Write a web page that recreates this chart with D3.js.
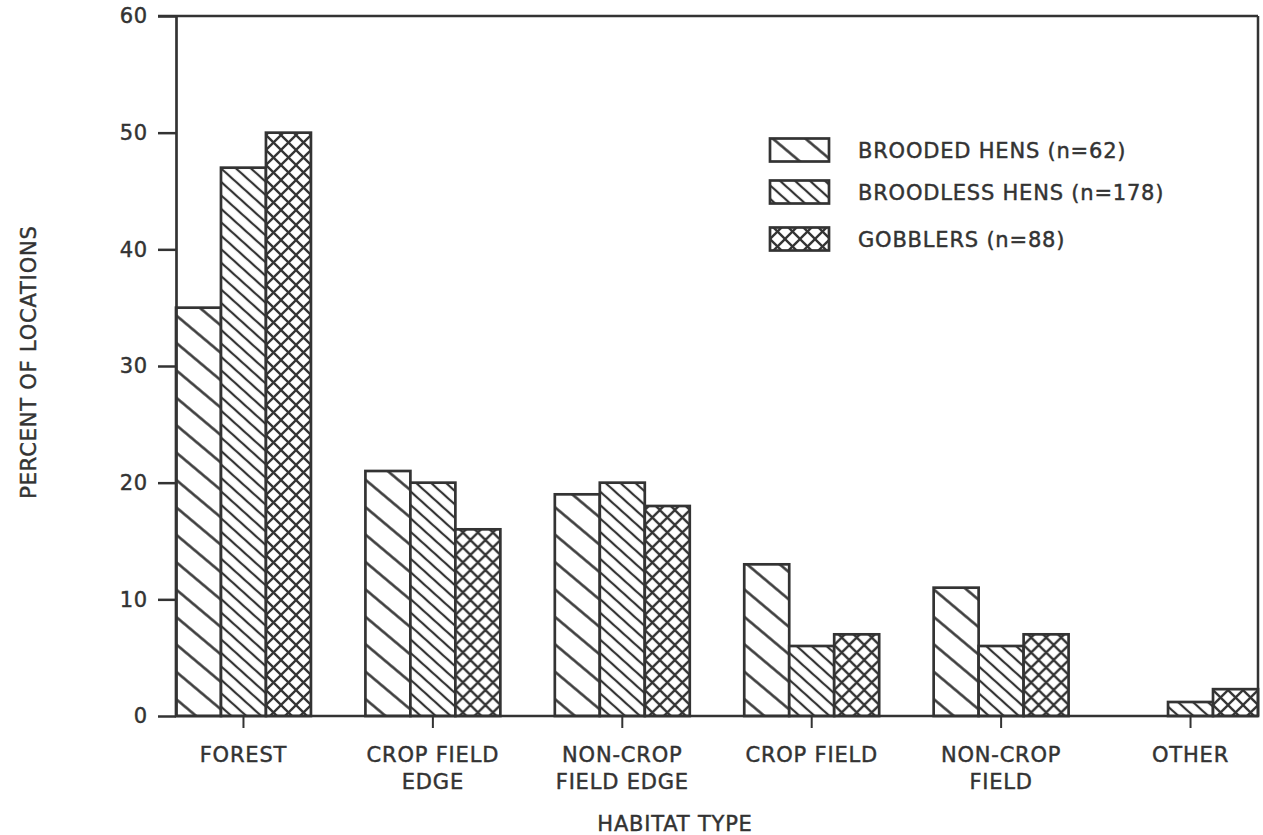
<!DOCTYPE html>
<html>
<head>
<meta charset="utf-8">
<script src="https://cdn.jsdelivr.net/npm/d3@7/dist/d3.min.js"></script>
<style>
  html, body { margin: 0; padding: 0; background: #fff; }
  svg { display: block; }
  text { font-family: "DejaVu Sans", sans-serif; fill: #333; stroke: #333; stroke-width: 0.45px; }
</style>
</head>
<body>
<svg id="chart" width="1263" height="835"></svg>
<script>
// ---- data ----
const categories = ["FOREST", "CROP FIELD EDGE", "NON-CROP FIELD EDGE", "CROP FIELD", "NON-CROP FIELD", "OTHER"];
const categoryLines = [["FOREST"], ["CROP FIELD", "EDGE"], ["NON-CROP", "FIELD EDGE"], ["CROP FIELD"], ["NON-CROP", "FIELD"], ["OTHER"]];
const seriesNames = ["BROODED HENS (n=62)", "BROODLESS HENS (n=178)", "GOBBLERS (n=88)"];
const broodedHens = [35, 21, 19, 13, 11, 0];
const broodlessHens = [47, 20, 20, 6, 6, 1.2];
const gobblers = [50, 16, 18, 7, 7, 2.3];
const yTicks = [0, 10, 20, 30, 40, 50, 60];
const yTitle = "PERCENT OF LOCATIONS";
const xTitle = "HABITAT TYPE";

(function () {
const seriesValues = [broodedHens, broodlessHens, gobblers];
const patternIds = ["pBrooded", "pBroodless", "pGobblers"];

// ---- layout ----
const ink = "#333";
const mLeft = 176, mRight = 1258, mTop = 16, mBottom = 716;

const svg = d3.select("#chart");
const defs = svg.append("defs");

function hatch(id, spacing, angle, sw) {
  const p = defs.append("pattern").attr("id", id)
    .attr("patternUnits", "userSpaceOnUse")
    .attr("width", spacing).attr("height", spacing)
    .attr("patternTransform", `rotate(${angle})`);
  p.append("rect").attr("width", spacing).attr("height", spacing).attr("fill", "#fff");
  p.append("line").attr("x1", spacing / 2).attr("x2", spacing / 2)
    .attr("y1", -1).attr("y2", spacing + 1)
    .attr("stroke", ink).attr("stroke-width", sw);
}
hatch("pBrooded", 21, -50, 2.5);
hatch("pBroodless", 10, -48, 2.2);

{
  const s = 15;
  const p = defs.append("pattern").attr("id", "pGobblers")
    .attr("patternUnits", "userSpaceOnUse")
    .attr("width", s).attr("height", s);
  p.append("rect").attr("width", s).attr("height", s).attr("fill", "#fff");
  p.append("line").attr("x1", -1).attr("y1", -1).attr("x2", s + 1).attr("y2", s + 1)
    .attr("stroke", ink).attr("stroke-width", 2.3);
  p.append("line").attr("x1", s + 1).attr("y1", -1).attr("x2", -1).attr("y2", s + 1)
    .attr("stroke", ink).attr("stroke-width", 2.3);
}

// ---- scales ----
const x0 = d3.scaleBand().domain(categories).range([mLeft, mRight]).paddingInner(0.2876).paddingOuter(0);
const x1 = d3.scaleBand().domain(d3.range(seriesValues.length)).range([0, x0.bandwidth()]).padding(0);
const y = d3.scaleLinear().domain([0, 60]).range([mBottom, mTop]);

// ---- bars ----
const groups = svg.append("g").selectAll("g")
  .data(categories).join("g")
  .attr("transform", d => `translate(${x0(d)},0)`);

groups.selectAll("rect")
  .data((d, i) => seriesValues.map((vals, s) => ({ s, v: vals[i] })))
  .join("rect")
  .attr("x", d => x1(d.s))
  .attr("width", x1.bandwidth())
  .attr("y", d => y(d.v))
  .attr("height", d => y(0) - y(d.v))
  .attr("fill", d => `url(#${patternIds[d.s]})`)
  .attr("stroke", ink)
  .attr("stroke-width", d => d.v > 0 ? 2.7 : 0);

// ---- frame ----
svg.append("line").attr("x1", 158).attr("x2", mRight).attr("y1", y(60)).attr("y2", y(60))
  .attr("stroke", ink).attr("stroke-width", 2.5);
svg.append("line").attr("x1", mRight).attr("x2", mRight).attr("y1", y(60)).attr("y2", y(0))
  .attr("stroke", ink).attr("stroke-width", 2.5);

// ---- y axis ----
const yAxis = svg.append("g").attr("transform", `translate(${mLeft},0)`)
  .call(d3.axisLeft(y).tickValues(yTicks).tickFormat(d3.format("d")).tickSize(18).tickSizeOuter(0).tickPadding(10));
yAxis.select(".domain").attr("stroke", ink).attr("stroke-width", 2.7);
yAxis.selectAll(".tick line").attr("stroke", ink).attr("stroke-width", 2.5);
yAxis.selectAll(".tick text").attr("font-size", 21).attr("fill", ink)
  .attr("font-family", "DejaVu Sans").style("letter-spacing", "0.8px");

// ---- x axis ----
const xAxis = svg.append("g").attr("transform", `translate(0,${mBottom})`)
  .call(d3.axisBottom(x0).tickSize(12).tickSizeOuter(0).tickFormat(""));
xAxis.select(".domain").attr("stroke", ink).attr("stroke-width", 2.7)
  .attr("d", `M${mLeft},0H${mRight}`);
xAxis.selectAll(".tick line").attr("stroke", ink).attr("stroke-width", 2);

svg.append("g").selectAll("text")
  .data(categories).join("text")
  .attr("x", d => x0(d) + x0.bandwidth() / 2)
  .attr("y", 762)
  .attr("text-anchor", "middle")
  .attr("font-size", 21)
  .style("letter-spacing", "0.8px")
  .each(function (d, i) {
    const t = d3.select(this);
    categoryLines[i].forEach((line, k) => {
      t.append("tspan").attr("x", x0(d) + x0.bandwidth() / 2).attr("dy", k === 0 ? 0 : 27).text(line);
    });
  });

// ---- titles ----
svg.append("text").attr("x", 675).attr("y", 831).attr("text-anchor", "middle")
  .attr("font-size", 21).style("letter-spacing", "0.8px").text(xTitle);
svg.append("text").attr("transform", "translate(36,362) rotate(-90)").attr("text-anchor", "middle")
  .attr("font-size", 21).style("letter-spacing", "0.8px").text(yTitle);

// ---- legend ----
const legendY = [150, 192, 239];
const legend = svg.append("g").selectAll("g").data(seriesNames).join("g")
  .attr("transform", (d, i) => `translate(770,${legendY[i]})`);
legend.append("rect").attr("x", 0).attr("y", -11.5).attr("width", 59).attr("height", 23)
  .attr("fill", (d, i) => `url(#${patternIds[i]})`).attr("stroke", ink).attr("stroke-width", 2.7);
legend.append("text").attr("x", 88).attr("y", 7.5).attr("font-size", 21)
  .style("letter-spacing", "0.8px").text(d => d);
})();
</script>
</body>
</html>
